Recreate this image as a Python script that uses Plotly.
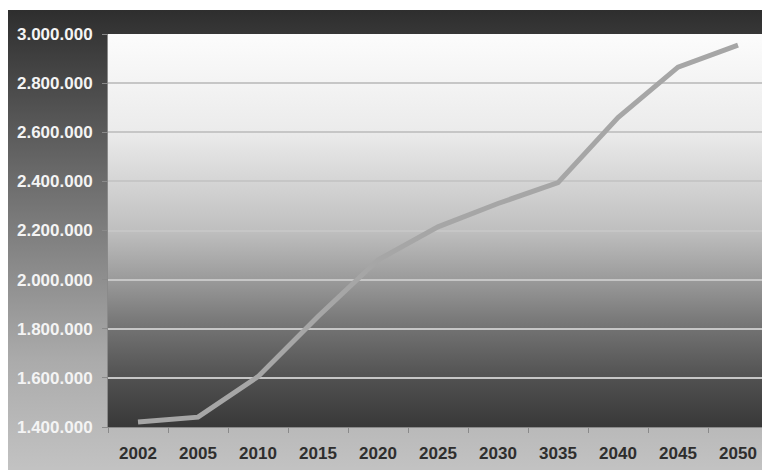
import base64
import plotly.graph_objects as go

# ---- data ----
years = ["2002", "2005", "2010", "2015", "2020", "2025", "2030", "3035", "2040", "2045", "2050"]
population = [1420000, 1440000, 1605000, 1850000, 2080000, 2215000, 2310000, 2395000, 2660000, 2865000, 2955000]
y_ticks = [1400000, 1600000, 1800000, 2000000, 2200000, 2400000, 2600000, 2800000, 3000000]


def svg_gradient(stops):
    parts = "".join(
        f'<stop offset="{o}" stop-color="{c}"/>' for o, c in stops
    )
    svg = (
        '<svg xmlns="http://www.w3.org/2000/svg" width="100" height="100" preserveAspectRatio="none">'
        '<defs><linearGradient id="g" x1="0" y1="0" x2="0" y2="1">'
        f"{parts}</linearGradient></defs>"
        '<rect x="0" y="0" width="100" height="100" fill="url(#g)"/></svg>'
    )
    return "data:image/svg+xml;base64," + base64.b64encode(svg.encode()).decode()


outer_bg = svg_gradient([(0, "#2e2e2e"), (0.35, "#6a6a6a"), (0.75, "#ababab"), (1, "#c4c4c4")])
plot_bg = svg_gradient([
    (0, "#fcfcfc"), (0.25, "#ebebeb"), (0.5, "#bfbfbf"), (0.62, "#9c9c9c"),
    (0.75, "#727272"), (0.88, "#505050"), (1, "#383838"),
])

W, H = 770, 470
L, R, T, B = 100, 10, 26, 51
pw, ph = W - L - R, H - T - B
TOP_GAP = 2

fig = go.Figure()
fig.add_trace(go.Scatter(
    x=years, y=population, mode="lines",
    line=dict(color="#a6a6a6", width=5),
    hoverinfo="x+y",
))

FONT = "Liberation Sans, Arial, sans-serif"

fig.update_layout(
    width=W, height=H,
    margin=dict(l=L, r=R, t=T, b=B, pad=0),
    paper_bgcolor="#ffffff",
    plot_bgcolor="rgba(0,0,0,0)",
    separators=",.",
    showlegend=False,
    font=dict(family=FONT, size=17),
    images=[
        dict(source=outer_bg, xref="paper", yref="paper",
             x=-L / pw, y=(H - B - TOP_GAP) / ph,
             sizex=W / pw, sizey=(H - TOP_GAP) / ph,
             xanchor="left", yanchor="top", sizing="stretch", layer="below"),
        dict(source=plot_bg, xref="paper", yref="paper",
             x=0, y=1, sizex=1, sizey=1,
             xanchor="left", yanchor="top", sizing="stretch", layer="below"),
    ],
    xaxis=dict(
        type="category",
        tickson="boundaries",
        ticks="outside", ticklen=5, tickcolor="#8a8a8a",
        showline=True, linecolor="#8a8a8a", linewidth=1,
        showgrid=False,
        tickfont=dict(color="#2e2e2e", size=17, family=FONT, weight="bold"),
        ticklabelstandoff=11,
        range=[-0.5, len(years) - 0.5],
    ),
    yaxis=dict(
        range=[1400000, 3000000],
        tickvals=y_ticks,
        tickformat=",d",
        ticks="outside", ticklen=5, tickcolor="#8a8a8a",
        showline=True, linecolor="#8a8a8a", linewidth=1,
        showgrid=True, gridcolor="#c6c6c6", gridwidth=1.5,
        zeroline=False,
        tickfont=dict(color="#f4f4f4", size=17, family=FONT, weight="bold"),
        ticklabelstandoff=6,
    ),
)

fig.write_html("out.html")
